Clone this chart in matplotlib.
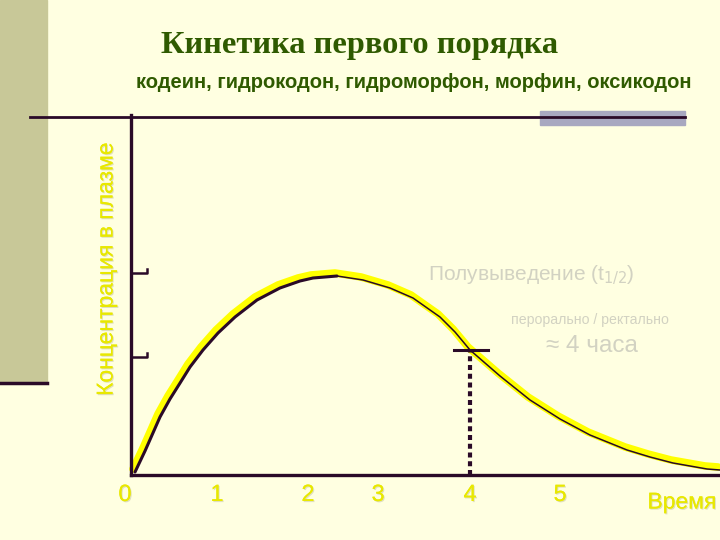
import matplotlib.pyplot as plt
import matplotlib.transforms as mtransforms
import matplotlib.patheffects as pe
from matplotlib.patches import Rectangle
from matplotlib.lines import Line2D

# curve (time units, relative concentration)
time_h = [0.044, 0.153, 0.317, 0.426, 0.536, 0.645, 0.787, 0.951, 1.137, 1.377,
          1.628, 1.847, 1.989, 2.251, 2.536, 2.831, 3.082, 3.377, 3.541, 3.705,
          4.033, 4.361, 4.689, 5.016, 5.421, 5.672, 5.923, 6.295, 6.437]
conc = [0.015, 0.12, 0.29, 0.38, 0.46, 0.54, 0.625, 0.71, 0.79, 0.875,
        0.935, 0.97, 0.985, 0.995, 0.975, 0.935, 0.885, 0.79, 0.715, 0.625,
        0.495, 0.375, 0.28, 0.20, 0.125, 0.09, 0.06, 0.03, 0.025]

tick_pos = [-0.066, 0.94, 1.934, 2.70, 3.705, 4.689]
tick_labels = ['0', '1', '2', '3', '4', '5']
bracket_levels = [1.01, 0.59]
t_half = 3.705
c_half = 0.625

bg = '#FFFFE1'
dark = '#2A0A28'
green = '#2F5A00'
yellow = '#E8E800'
pale = '#D2D2C2'

fig = plt.figure(figsize=(7.2, 5.4), dpi=100, facecolor=bg)

# slide decorations
fig.patches.append(Rectangle((0, 1 - 382 / 540), 47 / 720, 382 / 540,
                             transform=fig.transFigure, color='#C8C898', zorder=0))
fig.lines.append(Line2D([0, 47 / 720], [1 - 383 / 540] * 2, transform=fig.transFigure,
                        color=dark, lw=2.5))
fig.lines.append(Line2D([30 / 720, 685 / 720], [1 - 117 / 540] * 2, transform=fig.transFigure,
                        color=dark, lw=2))
fig.patches.append(Rectangle((540 / 720, 1 - 125 / 540), 145 / 720, 14 / 540,
                             transform=fig.transFigure, color='#A8A8C0', zorder=1))

fig.text(360 / 720, 1 - 46 / 540, 'Кинетика первого порядка', ha='center', va='center',
         family='Liberation Serif', weight='bold', fontsize=23.3, color=green)
fig.text(414 / 720, 1 - 83 / 540, 'кодеин, гидрокодон, гидроморфон, морфин, оксикодон',
         ha='center', va='center', family='Liberation Sans', weight='bold',
         fontsize=14.5, color=green)

ax = fig.add_axes([131 / 720, 65 / 540, 589 / 720, 360 / 540])
ax.set_facecolor('none')
ax.set_xlim(0, 6.437)
ax.set_ylim(0, 1.8)
for s in ['top', 'right']:
    ax.spines[s].set_visible(False)
for s in ['left', 'bottom']:
    ax.spines[s].set_color(dark)
    ax.spines[s].set_linewidth(2.4)
ax.set_xticks([])
ax.set_yticks([])

shadow = [pe.withSimplePatchShadow(offset=(0.8, -0.8), shadow_rgbFace='#C0C09A', alpha=0.5),
          pe.Normal()]

# yellow highlight slightly up-left of the black curve
shift = mtransforms.offset_copy(ax.transData, fig=fig, x=-2, y=3, units='dots')
ax.plot(time_h, conc, color='#FFFF00', lw=5.5, solid_capstyle='round',
        solid_joinstyle='round', transform=shift, zorder=2, clip_on=False)
peak = conc.index(max(conc))
ax.plot(time_h[:peak + 1], conc[:peak + 1], color=dark, lw=2.2, zorder=3,
        solid_capstyle='round', solid_joinstyle='round', clip_on=False)
ax.plot(time_h[peak:], conc[peak:], color=dark, lw=1.1, zorder=3,
        solid_joinstyle='round', clip_on=False)

# bracket marks on the concentration axis
for lvl in bracket_levels:
    ax.plot([0, 0.17, 0.17], [lvl, lvl, lvl + 0.02], color=dark, lw=1.8,
            clip_on=False, zorder=4)

# half-life marker
ax.plot([t_half, t_half], [0, c_half], color=dark, lw=3, linestyle=(0, (1.2, 0.9)),
        zorder=4)
ax.plot([t_half - 0.17, t_half + 0.20], [c_half, c_half], color=dark, lw=2.2, zorder=4)

# axis texts
for p, lab in zip(tick_pos, tick_labels):
    ax.text(p, -0.10, lab, ha='center', va='center', fontsize=17,
            family='Liberation Sans', color=yellow, path_effects=shadow)
ax.text(6.02, -0.135, 'Время', ha='center', va='center', fontsize=16.5,
        family='Liberation Sans', color=yellow, path_effects=shadow)
fig.text(106 / 720, 1 - 269 / 540, 'Концентрация в плазме', rotation=90,
         ha='center', va='center', fontsize=16.5, family='Liberation Sans',
         color=yellow, path_effects=shadow)

ax.text(4.37, 1.0, 'Полувыведение (t$_{1/2}$)', ha='center', va='center',
        fontsize=15, family='Liberation Sans', color=pale)
ax.text(5.02, 0.775, 'перорально / ректально', ha='center', va='center',
        fontsize=10.2, family='Liberation Sans', color=pale)
ax.text(5.04, 0.645, '≈ 4 часа', ha='center', va='center',
        fontsize=17.5, family='Liberation Sans', color=pale)

fig.savefig('out.png', dpi=100, facecolor=bg)
